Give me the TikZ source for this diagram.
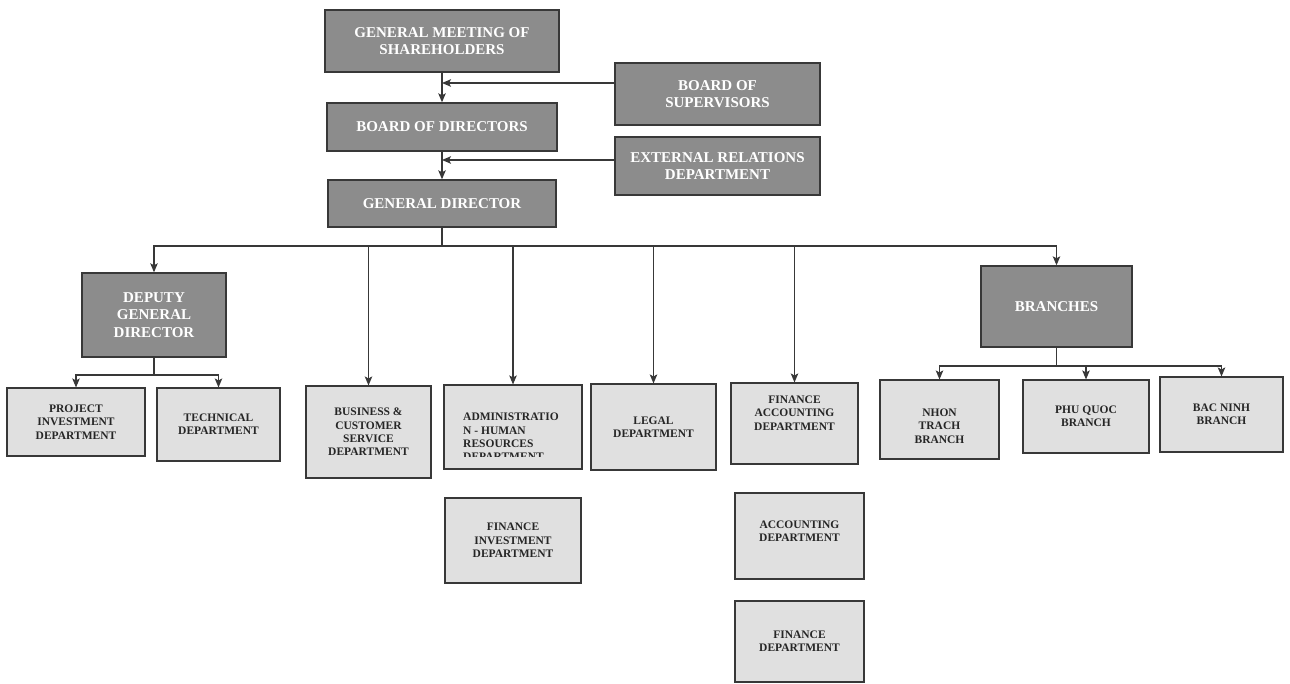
\documentclass[tikz,border=0pt]{standalone}
\usepackage{fontspec}
\setmainfont{Liberation Serif}
\usetikzlibrary{arrows.meta}
\definecolor{darkbox}{HTML}{8C8C8C}
\definecolor{lightbox}{HTML}{E0E0E0}
\definecolor{edge}{HTML}{383838}

\begin{document}
\begin{tikzpicture}[x=1pt,y=-1pt,>={Stealth[length=9pt,width=7.5pt,inset=2pt]},
	topbox/.style={draw=edge,line width=1.4pt,fill=darkbox,text=white,inner sep=0pt,align=center,font=\bfseries\fontsize{15}{17.5}\selectfont},
	lowbox/.style={draw=edge,line width=1.1pt,fill=lightbox,inner sep=0pt,align=center,font=\bfseries\fontsize{11.5}{13.3}\selectfont,text=black!85},
	lowtext/.style={inner sep=0pt,align=center,font=\bfseries\fontsize{11.5}{13.3}\selectfont,text=black!85},
	link/.style={draw=edge,line width=1.1pt}]
					\useasboundingbox (0,0) rectangle (1290,684);
					%TOP
					\node[topbox,minimum width=234pt,minimum height=62pt] (gms) at (442,41) {GENERAL MEETING OF\\SHAREHOLDERS};
					\node[topbox,minimum width=230pt,minimum height=48pt] (bod) at (442,127) {BOARD OF DIRECTORS};
					\node[topbox,minimum width=228pt,minimum height=47pt] (gd) at (442,203.5) {GENERAL DIRECTOR};
					\node[topbox,minimum width=205pt,minimum height=62pt] (bos) at (717.5,94) {BOARD OF\\SUPERVISORS};
					\node[topbox,minimum width=205pt,minimum height=58pt] (erd) at (717.5,166) {EXTERNAL RELATIONS\\DEPARTMENT};
					\draw[link,->] (gms.south) -- (bod.north);
					\draw[link,->] (bod.south) -- (gd.north);
					\draw[link,->] ([yshift=11pt]bos.west) -- ([yshift=11pt]bos.west -| bod.north);
					\draw[link,->] ([yshift=6pt]erd.west) -- ([yshift=6pt]erd.west -| gd.north);
					%SECOND LEVEL
					\node[topbox,minimum width=144pt,minimum height=84pt] (dgd) at (154,315) {DEPUTY\\GENERAL\\DIRECTOR};
					\node[lowbox,minimum width=125pt,minimum height=92pt] (bcs) at (368.5,432) {BUSINESS \&\\CUSTOMER\\SERVICE\\DEPARTMENT};
					\node[lowbox,minimum width=138pt,minimum height=84pt] (adm) at (513,427) {};
					\node[lowbox,minimum width=125pt,minimum height=86pt] (leg) at (653.5,427) {LEGAL\\DEPARTMENT};
					\node[lowbox,minimum width=127pt,minimum height=81pt] (fad) at (794.5,423.5) {};
					\node[lowtext] (fadtxt) at (794.5,413) {FINANCE\\ACCOUNTING\\DEPARTMENT};
					\node[topbox,minimum width=151pt,minimum height=81pt] (br) at (1056.5,306.5) {BRANCHES};
					\coordinate (bus) at (442,246);
					\draw[link] (gd.south) -- (bus);
					\foreach \n in {dgd,bcs,adm,leg,fad,br}
						\draw[link,->] (bus) -| (\n.north);
					%cut text in the administration box
					\begin{scope}
						\clip ([yshift=13pt]adm.south west) rectangle (adm.north east);
						\node[lowtext,align=left,anchor=north west] (admtxt) at (463,413) {ADMINISTRATIO\\N - HUMAN\\RESOURCES\\DEPARTMENT};
					\end{scope}
					%UNDER DEPUTY
					\node[lowbox,minimum width=138pt,minimum height=68pt] (pid) at (76,422) {PROJECT\\INVESTMENT\\DEPARTMENT};
					\node[lowbox,minimum width=123pt,minimum height=73pt] (tech) at (218.5,424.5) {TECHNICAL\\DEPARTMENT};
					\coordinate (dgdbus) at (154,375);
					\draw[link] (dgd.south) -- (dgdbus);
					\foreach \n in {pid,tech}
						\draw[link,->] (dgdbus) -| (\n.north);
					%LOOSE BOXES
					\node[lowbox,minimum width=136pt,minimum height=85pt] (fid) at (513,540.5) {FINANCE\\INVESTMENT\\DEPARTMENT};
					\node[lowbox,minimum width=129pt,minimum height=86pt] (acc) at (799.5,536) {};
					\node[lowtext] (acctxt) at (799.5,531) {ACCOUNTING\\DEPARTMENT};
					\node[lowbox,minimum width=129pt,minimum height=81pt] (fin) at (799.5,641.5) {FINANCE\\DEPARTMENT};
					%BRANCHES
					\node[lowbox,minimum width=119pt,minimum height=79pt] (nt) at (939.5,419.5) {};
					\node[lowtext] (nttxt) at (939.5,426) {NHON\\TRACH\\BRANCH};
					\node[lowbox,minimum width=126pt,minimum height=73pt] (pq) at (1086,416.5) {PHU QUOC\\BRANCH};
					\node[lowbox,minimum width=123pt,minimum height=75pt] (bn) at (1221.5,414.5) {BAC NINH\\BRANCH};
					\coordinate (brbus) at (1056.5,366);
					\draw[link] (br.south) -- (brbus);
					\foreach \n in {nt,pq,bn}
						\draw[link,->] (brbus) -| (\n.north);
\end{tikzpicture}
\end{document}
